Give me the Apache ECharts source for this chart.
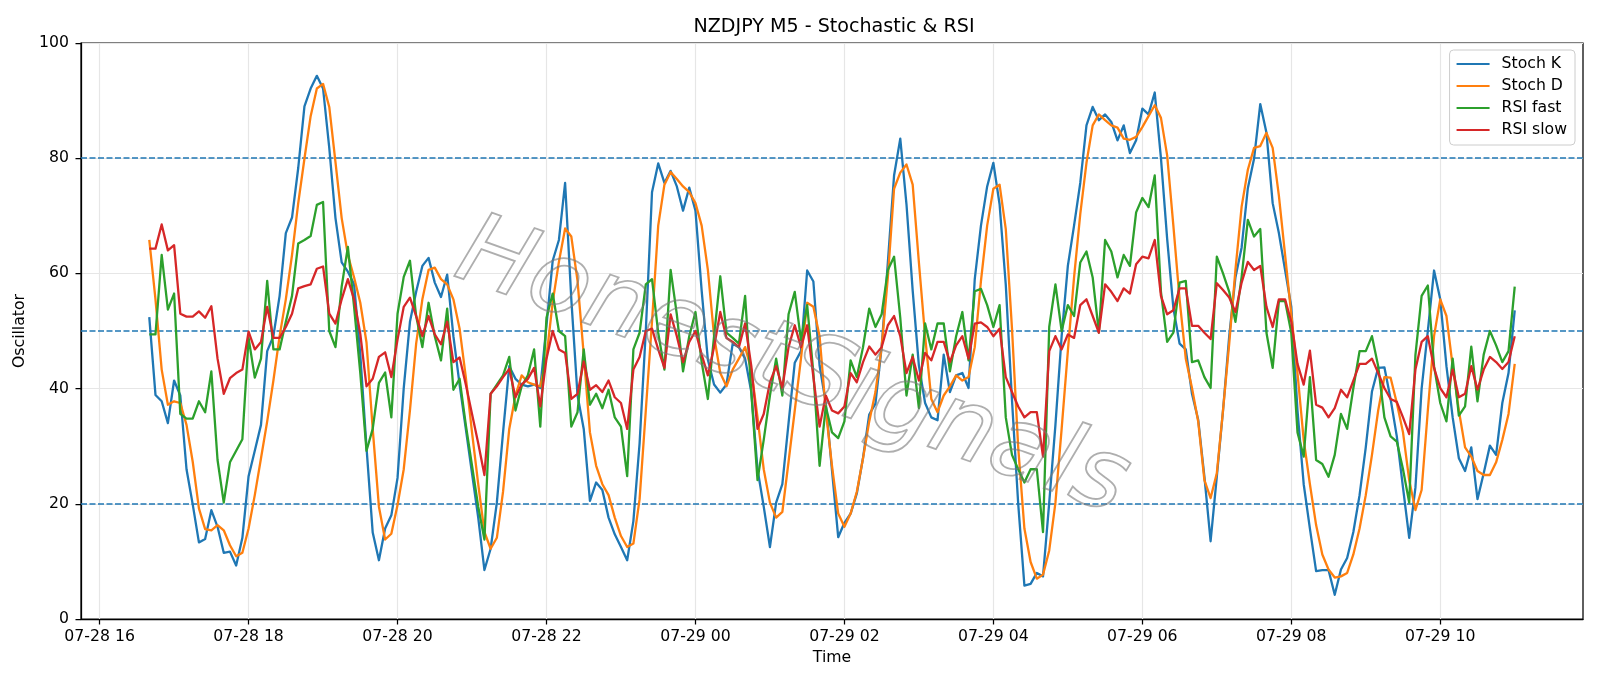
<!DOCTYPE html>
<html>
<head>
<meta charset="utf-8">
<title>NZDJPY M5 - Stochastic &amp; RSI</title>
<script src="https://cdn.jsdelivr.net/npm/echarts@6.0.0/dist/echarts.min.js"></script>
<style>
    html, body { margin: 0; padding: 0; background: #fff; }
    #chartView { width: 1600px; height: 686px; }
</style>
</head>
<body>
<div id="chartView"></div>
<script>
// M5 bars, first bar 07-28 16:40, hours counted from 07-28 00:00
var startHour = 16 + 40 / 60;
var stepHour = 5 / 60;

var tickHours = [16, 18, 20, 22, 24, 26, 28, 30, 32, 34];
var tickLabels = ['07-28 16', '07-28 18', '07-28 20', '07-28 22', '07-29 00', '07-29 02', '07-29 04', '07-29 06', '07-29 08', '07-29 10'];
var levelLines = [20, 50, 80];

var stochK = [
    52.4, 38.9, 37.8, 34.0, 41.4, 38.8, 26.0, 19.9, 13.3, 13.9, 18.9, 16.0, 11.5, 11.7, 9.3, 14.1, 24.8, 29.2, 33.7, 46.5,
    49.1, 56.1, 67.0, 69.7, 78.3, 89.0, 92.1, 94.3, 92.1, 81.8, 69.6, 61.9, 60.3, 58.1, 45.9, 29.8, 15.0, 10.2, 15.7, 18.0,
    24.5, 40.1, 51.6, 56.8, 61.3, 62.7, 58.4, 55.9, 59.8, 49.1, 40.7, 33.0, 25.3, 17.6, 8.5, 12.2, 20.2, 32.4, 43.9, 41.7,
    40.7, 40.4, 40.7, 40.1, 51.0, 62.2, 65.8, 75.7, 55.5, 38.8, 33.0, 20.5, 23.7, 22.4, 17.6, 14.7, 12.5, 10.2, 17.0, 30.5,
    50.0, 74.1, 79.1, 75.7, 77.8, 75.1, 70.9, 74.9, 70.9, 57.0, 45.0, 40.7, 39.3, 40.7, 47.8, 47.2, 45.2, 39.4, 26.0, 19.5,
    12.5, 20.2, 23.4, 34.0, 44.5, 46.5, 60.5, 58.6, 44.0, 37.5, 25.8, 14.2, 16.7, 18.3, 21.8, 28.0, 35.5, 37.4, 47.2, 61.9,
    77.0, 83.4, 72.0, 57.0, 44.0, 37.5, 35.0, 34.5, 45.9, 39.4, 42.3, 42.7, 40.1, 59.0, 68.3, 75.1, 79.2, 72.0, 58.0, 38.0,
    20.0, 5.8, 6.1, 8.0, 7.4, 20.2, 33.7, 49.1, 61.3, 68.3, 75.7, 85.7, 88.9, 86.6, 87.6, 86.3, 83.1, 85.7, 80.9, 83.1,
    88.6, 87.6, 91.4, 80.0, 66.0, 54.0, 47.8, 46.8, 39.1, 34.6, 24.7, 13.5, 24.7, 36.2, 49.1, 59.3, 64.5, 74.8, 79.9, 89.4,
    84.4, 72.2, 67.0, 60.6, 54.2, 36.2, 23.4, 15.7, 8.3, 8.5, 8.5, 4.2, 8.6, 10.6, 15.1, 21.5, 29.8, 39.5, 43.6, 43.7,
    38.2, 31.7, 22.8, 14.1, 22.8, 40.0, 50.0, 60.5, 55.5, 43.9, 35.0, 27.9, 25.7, 29.8, 20.8, 25.3, 30.1, 28.5, 37.5, 42.7,
    53.6
];

var stochD = [
    65.8, 55.5, 43.3, 37.2, 37.8, 37.5, 33.7, 27.3, 19.2, 15.6, 15.4, 16.3, 15.4, 12.8, 10.9, 11.5, 15.7, 21.5, 27.9, 34.3,
    41.4, 49.1, 55.5, 63.2, 72.2, 79.9, 87.3, 92.1, 92.9, 88.9, 79.3, 69.6, 63.2, 59.3, 54.9, 48.0, 33.0, 19.5, 13.8, 14.8,
    19.8, 26.0, 36.2, 47.8, 55.5, 60.6, 61.0, 59.0, 58.1, 55.5, 50.4, 42.0, 32.4, 23.4, 15.1, 12.2, 14.1, 22.1, 33.0, 38.8,
    42.3, 41.1, 40.7, 40.4, 45.5, 55.0, 62.0, 67.8, 66.4, 58.7, 45.9, 32.4, 26.6, 23.4, 21.5, 17.6, 14.4, 12.5, 13.1, 20.8,
    36.2, 51.6, 68.3, 75.4, 77.6, 76.4, 75.1, 74.1, 72.2, 68.3, 60.6, 49.1, 42.7, 40.4, 43.3, 45.2, 47.2, 43.3, 35.0, 26.0,
    20.2, 17.6, 18.6, 27.3, 36.2, 45.2, 54.9, 54.2, 49.1, 36.2, 26.6, 18.3, 16.0, 18.3, 22.1, 27.9, 34.3, 39.4, 47.2, 59.3,
    74.7, 77.5, 78.9, 75.4, 61.9, 49.1, 38.2, 35.9, 38.8, 40.4, 42.3, 41.4, 42.0, 47.2, 58.7, 68.3, 74.7, 75.4, 67.7, 50.4,
    29.8, 15.7, 9.9, 7.0, 7.7, 11.9, 20.2, 33.0, 46.5, 59.3, 70.3, 79.2, 85.7, 87.6, 86.6, 85.7, 85.3, 83.4, 83.2, 83.7,
    85.4, 87.3, 89.2, 87.0, 80.5, 68.3, 55.5, 45.2, 40.1, 34.3, 24.1, 21.0, 25.3, 36.2, 47.8, 60.6, 71.6, 78.0, 81.8, 82.1,
    84.4, 81.8, 73.5, 63.2, 52.9, 42.7, 31.1, 23.4, 16.3, 11.2, 8.6, 7.2, 7.4, 8.0, 11.2, 15.7, 21.5, 28.5, 36.2, 42.0,
    41.9, 37.5, 32.4, 24.1, 18.9, 22.4, 36.2, 49.1, 55.5, 52.6, 43.9, 36.2, 29.8, 28.2, 25.7, 25.0, 25.0, 27.2, 31.1, 35.6,
    44.3
];

var rsiFast = [
    49.4, 49.4, 63.2, 53.7, 56.5, 35.6, 34.8, 34.8, 37.8, 35.9, 43.0, 27.6, 20.2, 27.2, 29.2, 31.2, 48.8, 41.9, 45.2, 58.7,
    46.8, 46.8, 51.6, 56.1, 65.2, 65.8, 66.5, 71.9, 72.4, 50.0, 47.2, 57.7, 64.6, 54.2, 42.7, 29.2, 33.0, 41.0, 42.8, 35.0,
    53.0, 59.4, 62.2, 52.6, 47.2, 54.9, 49.1, 44.9, 53.9, 39.8, 41.7, 33.7, 26.6, 19.5, 13.8, 39.1, 40.7, 42.3, 45.5, 36.2,
    40.4, 42.3, 46.8, 33.4, 52.3, 56.5, 50.0, 49.1, 33.4, 35.9, 46.8, 37.2, 39.1, 36.6, 39.8, 35.0, 33.4, 24.8, 46.8, 49.7,
    58.1, 59.0, 49.7, 43.3, 60.6, 52.9, 43.0, 49.1, 53.3, 44.6, 38.2, 49.1, 59.5, 49.7, 48.8, 47.8, 56.1, 39.4, 24.1, 31.1,
    38.8, 45.2, 38.8, 52.9, 56.8, 48.4, 54.5, 42.7, 26.6, 36.9, 32.4, 31.4, 34.3, 44.9, 42.0, 47.2, 53.9, 50.7, 52.9, 60.6,
    62.9, 52.3, 38.8, 45.9, 36.6, 51.3, 46.8, 51.3, 51.3, 43.0, 49.1, 53.3, 44.9, 56.9, 57.3, 54.5, 50.7, 54.5, 35.0, 28.5,
    26.0, 23.7, 26.0, 26.0, 15.1, 50.7, 58.1, 50.0, 54.5, 52.6, 61.9, 63.8, 59.3, 49.7, 65.8, 63.8, 59.3, 63.2, 61.3, 70.6,
    73.1, 71.5, 77.0, 56.8, 48.1, 49.7, 58.4, 58.7, 44.6, 44.9, 42.0, 40.1, 62.9, 60.0, 56.8, 51.6, 59.4, 69.3, 66.4, 67.7,
    49.7, 43.6, 55.2, 55.2, 49.7, 32.4, 28.2, 42.0, 27.6, 26.9, 24.7, 28.5, 35.6, 33.0, 40.1, 46.5, 46.5, 49.1, 43.9, 35.0,
    31.7, 30.8, 26.0, 20.2, 45.8, 56.1, 57.9, 43.9, 37.5, 34.3, 45.2, 35.3, 36.9, 47.3, 37.8, 45.9, 50.0, 47.5, 44.6, 46.5,
    57.7
];

var rsiSlow = [
    64.3, 64.3, 68.5, 64.0, 64.9, 53.0, 52.5, 52.5, 53.4, 52.3, 54.3, 45.2, 39.1, 41.8, 42.7, 43.3, 49.9, 46.8, 48.1, 54.2,
    48.8, 48.8, 50.7, 53.0, 57.4, 57.8, 58.1, 60.8, 61.2, 53.0, 51.3, 55.5, 59.0, 55.5, 49.5, 40.4, 41.7, 45.5, 46.3, 42.0,
    48.5, 54.2, 55.8, 52.6, 49.1, 52.6, 49.4, 47.7, 51.6, 44.6, 45.4, 40.7, 35.6, 30.5, 25.0, 39.1, 40.4, 42.0, 43.4, 38.5,
    40.7, 41.7, 43.6, 36.9, 45.2, 50.0, 46.8, 46.2, 38.2, 39.1, 44.7, 39.8, 40.6, 39.4, 41.4, 38.5, 37.5, 33.0, 43.3, 45.5,
    50.0, 50.4, 46.8, 43.6, 52.9, 49.1, 44.6, 48.1, 50.0, 45.9, 42.3, 47.2, 53.3, 48.8, 48.1, 47.2, 51.3, 43.9, 33.0, 35.6,
    41.1, 43.9, 40.1, 47.2, 51.0, 47.2, 51.0, 42.0, 33.4, 38.8, 36.2, 35.7, 36.9, 42.7, 41.1, 44.6, 47.3, 45.9, 47.2, 51.0,
    52.6, 49.1, 42.7, 45.5, 41.4, 46.2, 44.9, 48.1, 48.1, 44.6, 47.5, 49.1, 45.2, 51.3, 51.5, 50.7, 49.1, 50.4, 42.0, 39.4,
    36.9, 35.0, 35.9, 35.9, 28.2, 46.5, 49.1, 46.8, 49.4, 48.8, 54.5, 55.5, 52.6, 49.7, 58.1, 56.8, 55.2, 57.4, 56.5, 61.6,
    62.9, 62.6, 65.8, 56.1, 52.9, 53.6, 57.4, 57.4, 50.9, 50.9, 49.7, 48.6, 58.3, 57.1, 55.8, 53.3, 58.4, 62.0, 60.6, 61.3,
    54.2, 50.7, 55.5, 55.5, 51.6, 44.3, 40.7, 46.6, 37.2, 36.7, 35.0, 36.6, 39.8, 38.5, 41.4, 44.3, 44.3, 45.2, 42.7, 40.1,
    38.2, 37.7, 35.0, 32.1, 43.3, 48.1, 49.1, 43.6, 40.1, 38.5, 43.3, 38.5, 39.1, 43.9, 39.8, 43.3, 45.5, 44.6, 43.4, 44.6,
    49.1
];

var FONT = 'DejaVu Sans';
var textStyle = { fontFamily: FONT, fontSize: 15.7, color: '#000' };

var lastHour = startHour + (stochK.length - 1) * stepHour;
var pad = (lastHour - startHour) * 0.05;

function toPoints(values) {
    return values.map(function (v, i) { return [startHour + i * stepHour, v]; });
}

function lineSeries(name, values, color) {
    return {
        name: name,
        type: 'line',
        data: toPoints(values),
        symbol: 'none',
        z: 3,
        lineStyle: { color: color, width: 2.3, join: 'round' },
        itemStyle: { color: color },
        emphasis: { disabled: true }
    };
}

var guideLines = tickHours.map(function (h) {
    return { xAxis: h, lineStyle: { color: '#e6e6e6', width: 1.2, type: 'solid' } };
}).concat(levelLines.map(function (v) {
    return { yAxis: v, lineStyle: { color: '#1f77b4', width: 1.5, type: [6, 2.5] } };
}));

var myChart = echarts.init(document.getElementById('chartView'));
myChart.setOption({
    animation: false,
    title: {
        text: 'NZDJPY M5 - Stochastic & RSI',
        left: 829,
        top: 13,
        textAlign: 'center',
        textStyle: { fontFamily: FONT, fontSize: 19.1, fontWeight: 'normal', color: '#000' }
    },
    legend: {
        data: ['Stoch K', 'Stoch D', 'RSI fast', 'RSI slow'],
        orient: 'vertical',
        right: 25,
        top: 50,
        itemWidth: 33,
        itemHeight: 14,
        itemGap: 6,
        padding: [6, 8, 7, 6],
        backgroundColor: 'rgba(255,255,255,0.8)',
        borderColor: '#cccccc',
        borderWidth: 1,
        borderRadius: 4,
        selectedMode: false,
        // line series put a circle in the legend icon; hide it, keep the line
        itemStyle: { opacity: 0 },
        textStyle: { fontFamily: FONT, fontSize: 15.7, color: '#000', padding: [0, 0, 0, 7] }
    },
    grid: {
        left: 81, right: 17, top: 43, bottom: 67,
        show: true, borderColor: '#000', borderWidth: 1.25,
        outerBoundsMode: 'none'
    },
    xAxis: {
        type: 'value',
        min: startHour - pad,
        max: lastHour + pad,
        name: 'Time',
        nameLocation: 'middle',
        nameGap: 29,
        nameTextStyle: textStyle,
        axisLine: { show: true, onZero: false, lineStyle: { color: '#000', width: 1.25 } },
        axisTick: { show: true, customValues: tickHours, length: 5.5, lineStyle: { color: '#000', width: 1.25 } },
        axisLabel: {
            customValues: tickHours,
            margin: 10,
            fontFamily: FONT, fontSize: 15.7, color: '#000',
            formatter: function (v) { return tickLabels[tickHours.indexOf(Math.round(v))] || ''; }
        },
        splitLine: { show: false }
    },
    yAxis: {
        type: 'value',
        min: 0, max: 100, interval: 20,
        name: 'Oscillator',
        nameLocation: 'middle',
        nameRotate: 90,
        nameGap: 41,
        nameTextStyle: textStyle,
        axisLine: { show: true, lineStyle: { color: '#000', width: 1.25 } },
        axisTick: { show: true, length: 5.5, lineStyle: { color: '#000', width: 1.25 } },
        axisLabel: { margin: 12, fontFamily: FONT, fontSize: 15.7, color: '#000' },
        splitLine: { show: true, lineStyle: { color: '#e6e6e6', width: 1.2 } }
    },
    graphic: [{
        type: 'text',
        x: 792, y: 370,
        rotation: -0.345,
        z: 100,
        silent: true,
        style: {
            text: 'HonestSignals',
            fontFamily: FONT, fontSize: 99, fontStyle: 'italic',
            fill: 'rgba(0,0,0,0)',
            stroke: 'rgba(120,120,120,0.6)',
            lineWidth: 1.8,
            align: 'center',
            verticalAlign: 'middle'
        }
    }],
    series: [
        {
            name: 'guides',
            type: 'line',
            data: [],
            z: 1,
            silent: true,
            markLine: {
                silent: true,
                z: 1,
                symbol: ['none', 'none'],
                label: { show: false },
                emphasis: { disabled: true },
                data: guideLines
            }
        },
        lineSeries('Stoch K', stochK, '#1f77b4'),
        lineSeries('Stoch D', stochD, '#ff7f0e'),
        lineSeries('RSI fast', rsiFast, '#2ca02c'),
        lineSeries('RSI slow', rsiSlow, '#d62728')
    ]
});
</script>
</body>
</html>
